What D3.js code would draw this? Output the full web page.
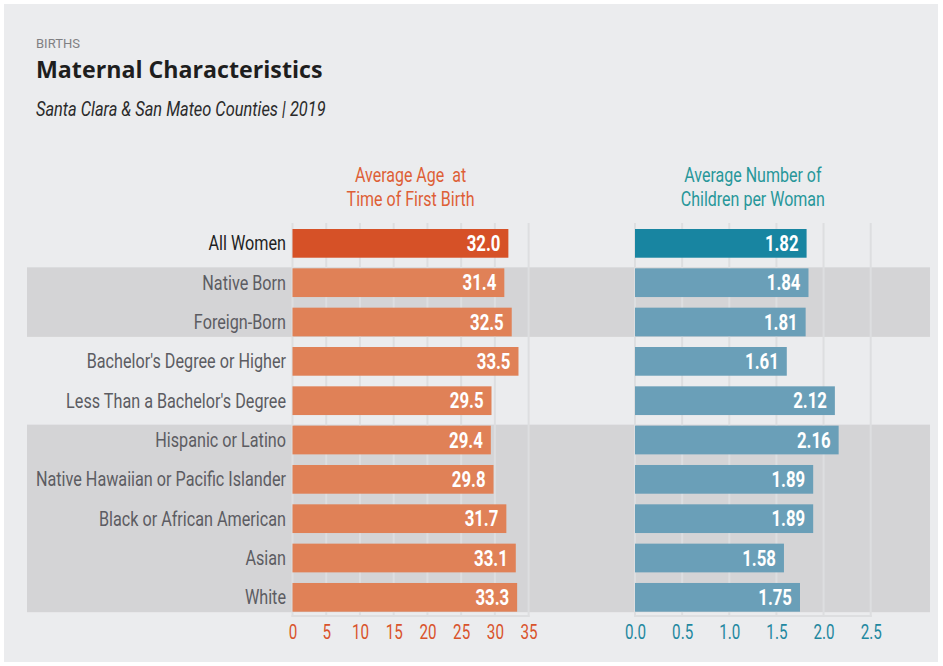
<!DOCTYPE html>
<html><head><meta charset="utf-8">
<script src="https://cdn.jsdelivr.net/npm/d3@7/dist/d3.min.js"></script>
<style>
html,body{margin:0;padding:0;background:#fff;}
svg{display:block;}
</style></head>
<body><svg id="c" width="943" height="666"></svg>
<script>
const categories = ["All Women","Native Born","Foreign-Born","Bachelor's Degree or Higher","Less Than a Bachelor's Degree","Hispanic or Latino","Native Hawaiian or Pacific Islander","Black or African American","Asian","White"];
const ageValues = [32.0,31.4,32.5,33.5,29.5,29.4,29.8,31.7,33.1,33.3];
const childValues = [1.82,1.84,1.81,1.61,2.12,2.16,1.89,1.89,1.58,1.75];
const ageTicks = [0,5,10,15,20,25,30,35];
const childTicks = [0,0.5,1.0,1.5,2.0,2.5];
const shadedGroups = [["Native Born","Foreign-Born"],["Hispanic or Latino","White"]];

const svg = d3.select("#c");
const FONT = 'Roboto,"Noto Sans",sans-serif';
const SX = 0.78; // horizontal condensing to imitate a condensed face

function ctext(parent, x, y, str, o){
  const g = parent.append("g").attr("transform",`translate(${x},${y}) scale(${o.sx||SX},1)`);
  const t = g.append("text").attr("x",0).attr("y",0)
    .attr("text-anchor",o.anchor||"start")
    .attr("font-family",o.family||FONT)
    .attr("font-size",o.size)
    .attr("font-weight",o.weight||"normal")
    .attr("font-style",o.style||"normal")
    .attr("fill",o.fill)
    .attr("xml:space","preserve")
    .text(str);
  return t;
}

svg.append("rect").attr("x",4).attr("y",4).attr("width",934).attr("height",658).attr("fill","#ebecee");

ctext(svg,36,48,"BIRTHS",{size:13,fill:"#808083",sx:1});
ctext(svg,36,77.5,"Maternal Characteristics",{size:23.2,weight:"bold",fill:"#1e1e1e",family:"'Open Sans',sans-serif",sx:1});
ctext(svg,36,116,"Santa Clara & San Mateo Counties | 2019",{size:20.5,style:"italic",fill:"#2a2a2a",sx:0.8});

const y = d3.scaleBand().domain(categories).range([223.7,617]).paddingInner(0.27).paddingOuter(0.135);
const xA = d3.scaleLinear().domain([0,35]).range([292.5,528.6]);
const xC = d3.scaleLinear().domain([0,2.5]).range([635,870.7]);

shadedGroups.forEach(g=>{
  const top = y(g[0]) - 1, bot = y(g[1]) + y.bandwidth() + 0.5;
  svg.append("rect").attr("x",27).attr("y",top).attr("width",903).attr("height",bot-top).attr("fill","#d4d4d6");
});

function panel(x, ticks, vals, fmt, mainColor, otherColor, tickColor, titleColor, titleLines){
  const g = svg.append("g");
  g.selectAll("line.grid").data(ticks).join("line")
    .attr("x1",d=>x(d)).attr("x2",d=>x(d)).attr("y1",223).attr("y2",617)
    .attr("stroke","#dddee0").attr("stroke-width",2);
  g.append("line").attr("x1",x.range()[0]-1).attr("x2",x.range()[1]+1).attr("y1",616).attr("y2",616).attr("stroke","#dddee0").attr("stroke-width",2);
  const ax = d3.axisBottom(x).tickValues(ticks).tickSize(0).tickPadding(0).tickFormat(fmt.tick);
  const axg = svg.append("g").attr("transform","translate(0,639)").call(ax);
  axg.select(".domain").remove();
  axg.selectAll("text").attr("font-family",FONT).attr("font-size",19.5).attr("fill",tickColor).attr("dy",0)
    .attr("transform",`scale(${SX},1)`);
  g.selectAll("rect.bar").data(categories).join("rect")
    .attr("x",x(0)).attr("y",d=>y(d)).attr("height",y.bandwidth())
    .attr("width",(d,i)=>x(vals[i])-x(0))
    .attr("fill",(d,i)=>i===0?mainColor:otherColor);
  categories.forEach((d,i)=>{
    ctext(g, x(vals[i])-8, y(d)+y.bandwidth()/2+7.5, fmt.val(vals[i]), {anchor:"end",size:21.5,weight:"bold",fill:"#fff"});
  });
  const cx = (x.range()[0]+x.range()[1])/2;
  titleLines.forEach((t,i)=>{
    ctext(svg, cx, 182+i*23.5, t, {anchor:"middle",size:20,fill:titleColor,sx:0.8});
  });
}

panel(xA, ageTicks, ageValues, {tick:d3.format("d"), val:d3.format(".1f")}, "#d65127", "#e08157", "#d9532b", "#de5f36", ["Average Age  at","Time of First Birth"]);
panel(xC, childTicks, childValues, {tick:d3.format(".1f"), val:d3.format(".2f")}, "#1885a1", "#6a9fb8", "#1f88a0", "#27979a", ["Average Number of","Children per Woman"]);

categories.forEach((d,i)=>{
  ctext(svg, 286, y(d)+y.bandwidth()/2+7, d, {anchor:"end",size:20,fill:i===0?"#1e1e1e":"#5c5c62",sx:0.81});
});
</script></body></html>
